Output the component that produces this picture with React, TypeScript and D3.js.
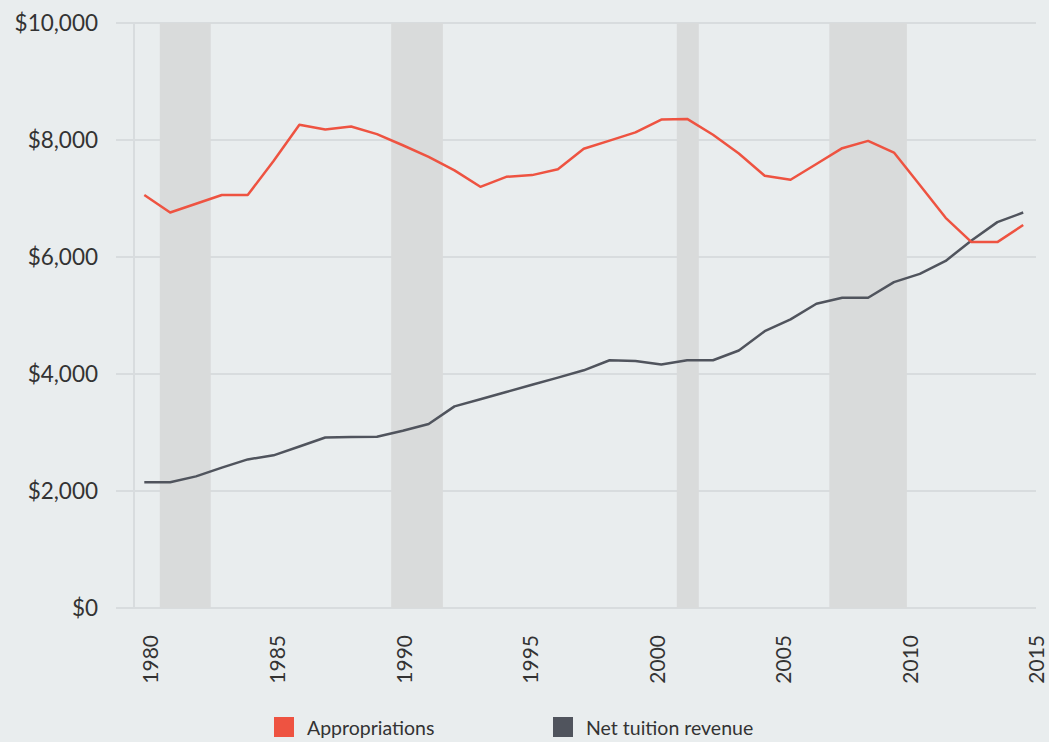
import React from "react";
import * as d3 from "d3";

const years = d3.range(1980, 2015);
const appropriations = [
  7060, 6760, 6910, 7060, 7060, 7640, 8260, 8180, 8230, 8100,
  7910, 7710, 7480, 7200, 7370, 7400, 7500, 7850, 7990, 8130,
  8350, 8360, 8090, 7770, 7390, 7320, 7590, 7860, 7985, 7785,
  7230, 6670, 6255, 6255, 6546,
];
const netTuition = [
  2150, 2150, 2250, 2400, 2540, 2610, 2760, 2915, 2925, 2928,
  3030, 3146, 3447, 3568, 3692, 3815, 3938, 4063, 4235, 4221,
  4161, 4235, 4235, 4401, 4731, 4935, 5200, 5303, 5303, 5570,
  5711, 5933, 6283, 6596, 6760,
];
const recessions: [number, number][] = [
  [1980.6, 1982.57],
  [1989.55, 1991.55],
  [2000.6, 2001.45],
  [2006.5, 2009.5],
];
const yTicks = [0, 2000, 4000, 6000, 8000, 10000];
const xTickYears = [1980, 1985, 1990, 1995, 2000, 2005, 2010, 2015];
const seriesNames = ["Appropriations", "Net tuition revenue"];
const seriesColors = ["#ee5341", "#50545d"];

const W = 1049;
const H = 742;
const FONT = "Lato, 'Open Sans', sans-serif";

export default function App() {
  const x = d3.scaleLinear().domain([1980, 2014]).range([144.3, 1023.2]);
  const xLabel = d3.scaleLinear().domain([1980, 2015]).range([151, 1037]);
  const y = d3.scaleLinear().domain([0, 10000]).range([608, 23]);
  const fmt = (v: number) => "$" + d3.format(",")(v);

  const line = d3
    .line<number>()
    .x((_, i) => x(years[i]))
    .y((d) => y(d));

  return (
    <div>
      <style>{`body{margin:0;background:#e9edee;}`}</style>
      <svg width={W} height={H} style={{ display: "block", background: "#e9edee" }}>
        {yTicks.map((t) => (
          <line key={"g" + t} x1={116} x2={1036} y1={y(t)} y2={y(t)} stroke="#d8dcde" strokeWidth={2} />
        ))}
        <line x1={134} x2={134} y1={y(10000)} y2={y(0)} stroke="#d8dcde" strokeWidth={2} />
        {recessions.map(([a, b], i) => (
          <rect key={"r" + i} x={x(a)} y={y(10000)} width={x(b) - x(a)} height={y(0) - y(10000)} fill="#d9dbdb" />
        ))}
        {yTicks.map((t) => (
          <text
            key={"yt" + t}
            x={98}
            y={y(t)}
            dy="0.35em"
            textAnchor="end"
            fontFamily={FONT}
            fontSize={22.5}
            fill="#333"
          >
            {fmt(t)}
          </text>
        ))}
        {xTickYears.map((yr) => (
          <text
            key={"xt" + yr}
            transform={`translate(${xLabel(yr)},635) rotate(-90)`}
            dy="0.35em"
            textAnchor="end"
            fontFamily={FONT}
            fontSize={21}
            fill="#333"
          >
            {yr}
          </text>
        ))}
        <path d={line(netTuition) || ""} fill="none" stroke={seriesColors[1]} strokeWidth={2.5} strokeLinejoin="round" />
        <path d={line(appropriations) || ""} fill="none" stroke={seriesColors[0]} strokeWidth={2.5} strokeLinejoin="round" />
        {seriesNames.map((name, i) => {
          const lx = i === 0 ? 274 : 553;
          return (
            <g key={name}>
              <rect x={lx} y={717} width={20} height={20} fill={seriesColors[i]} />
              <text x={lx + 33} y={735} fontFamily={FONT} fontSize={19.5} fill="#333">
                {name}
              </text>
            </g>
          );
        })}
      </svg>
    </div>
  );
}
